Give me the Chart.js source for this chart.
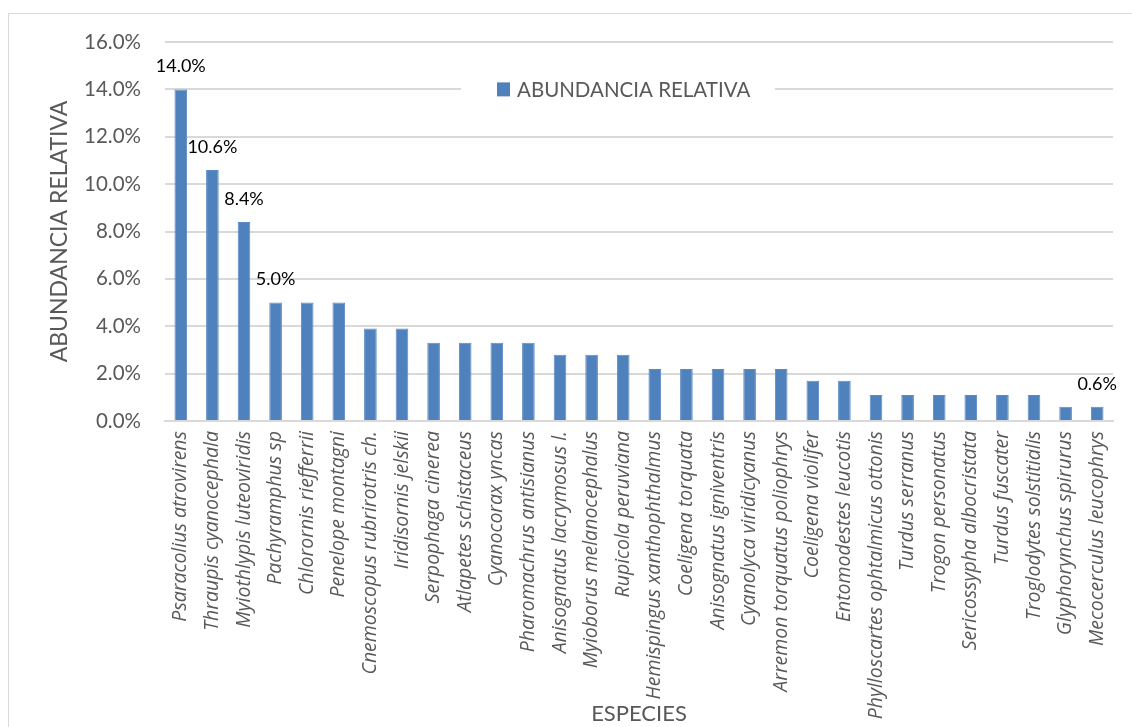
<!DOCTYPE html>
<html>
<head>
<meta charset="utf-8">
<script src="https://cdn.jsdelivr.net/npm/chart.js@4.4.1/dist/chart.umd.min.js"></script>
<style>
  html, body { margin: 0; padding: 0; background: #fff; }
  #wrap { width: 1132px; height: 727px; position: relative; }
</style>
</head>
<body>
<div id="wrap"><canvas id="chart"></canvas></div>
<script>
const especies = [
  'Psaracolius atrovirens', 'Thraupis cyanocephala', 'Myiothlypis luteoviridis',
  'Pachyramphus sp', 'Chlorornis riefferrii', 'Penelope montagni',
  'Cnemoscopus rubrirotris ch.', 'Iridisornis jelskii', 'Serpophaga cinerea',
  'Atlapetes schistaceus', 'Cyanocorax yncas', 'Pharomachrus antisianus',
  'Anisognatus lacrymosus l.', 'Myioborus melanocephalus', 'Rupicola peruviana',
  'Hemispingus xanthophthalmus', 'Coeligena torquata', 'Anisognatus igniventris',
  'Cyanolyca viridicyanus', 'Arremon torquatus poliophrys', 'Coeligena violifer',
  'Entomodestes leucotis', 'Phylloscartes ophtalmicus ottonis', 'Turdus serranus',
  'Trogon personatus', 'Sericossypha albocristata', 'Turdus fuscater',
  'Troglodytes solstitialis', 'Glyphorynchus spirurus', 'Mecocerculus leucophrys'
];
const abundancia = [
  14.0, 10.6, 8.4, 5.0, 5.0, 5.0, 3.9, 3.9, 3.3, 3.3,
  3.3, 3.3, 2.8, 2.8, 2.8, 2.2, 2.2, 2.2, 2.2, 2.2,
  1.7, 1.7, 1.1, 1.1, 1.1, 1.1, 1.1, 1.1, 0.6, 0.6
];
// bars that carry a value label
const conEtiqueta = [0, 1, 2, 3, 29];

const FONT = 'Lato, "Liberation Sans", sans-serif';
const FONT_ESP = '"Open Sans", Lato, sans-serif';
const GRIS = '#595959';
const AZUL = '#4F81BD';

// white page with the thin outer frame
const marco = {
  id: 'marco',
  beforeDraw(chart) {
    const c = chart.ctx;
    c.save();
    c.fillStyle = '#fff';
    c.fillRect(0, 0, chart.width, chart.height);
    c.strokeStyle = '#d9d9d9';
    c.lineWidth = 1;
    c.strokeRect(8.5, 13.5, chart.width + 20, chart.height + 20);
    c.restore();
  }
};

// value labels above selected bars
const etiquetas = {
  id: 'etiquetas',
  afterDatasetsDraw(chart) {
    const c = chart.ctx;
    const meta = chart.getDatasetMeta(0);
    c.save();
    c.font = '18px ' + FONT;
    c.fillStyle = '#000';
    c.textAlign = 'center';
    c.textBaseline = 'middle';
    conEtiqueta.forEach(i => {
      const bar = meta.data[i];
      c.fillText(abundancia[i].toFixed(1) + '%', bar.x, bar.y - 23);
    });
    c.restore();
  }
};

// legend box sitting inside the plot
const leyenda = {
  id: 'leyenda',
  afterDatasetsDraw(chart) {
    const c = chart.ctx;
    const y = chart.scales.y.getPixelForValue(14);
    c.save();
    c.fillStyle = '#fff';
    c.fillRect(461, y - 14, 314, 28);
    c.fillStyle = AZUL;
    c.fillRect(497, y - 7, 13, 14);
    c.font = '20.5px ' + FONT;
    c.fillStyle = GRIS;
    c.textAlign = 'left';
    c.textBaseline = 'middle';
    c.fillText(chart.data.datasets[0].label, 517, y + 1);
    c.restore();
  }
};

new Chart(document.getElementById('chart'), {
  type: 'bar',
  data: {
    labels: especies,
    datasets: [{
      label: 'ABUNDANCIA RELATIVA',
      data: abundancia,
      backgroundColor: AZUL,
      borderColor: '#5b8ac4',
      borderWidth: 1,
      barPercentage: 0.4,
      categoryPercentage: 1
    }]
  },
  options: {
    responsive: true,
    maintainAspectRatio: false,
    animation: false,
    layout: { padding: { top: 42, right: 19, bottom: 0, left: 0 } },
    scales: {
      x: {
        afterFit: s => { s.height = 306; },
        grid: { display: false, drawTicks: false },
        border: { color: '#d9d9d9', width: 2 },
        ticks: {
          color: GRIS,
          font: { family: FONT_ESP, size: 19.5, style: 'italic' },
          maxRotation: 90,
          minRotation: 90,
          padding: 10,
          autoSkip: false
        },
        title: {
          display: true,
          text: 'ESPECIES',
          color: GRIS,
          font: { family: FONT, size: 22 },
          padding: { top: 0, bottom: 0 }
        }
      },
      y: {
        min: 0,
        max: 16,
        afterFit: s => { s.width = 165; },
        grid: { color: '#d9d9d9', lineWidth: 2, drawTicks: false },
        border: { display: false },
        ticks: {
          stepSize: 2,
          color: GRIS,
          font: { family: FONT, size: 20.5 },
          padding: 24,
          callback: v => v.toFixed(1) + '%'
        },
        title: {
          display: true,
          text: 'ABUNDANCIA RELATIVA',
          color: GRIS,
          font: { family: FONT, size: 23 },
          padding: { top: 46, bottom: 0 }
        }
      }
    },
    plugins: {
      legend: { display: false },
      tooltip: { enabled: false }
    }
  },
  plugins: [marco, etiquetas, leyenda]
});
</script>
</body>
</html>
